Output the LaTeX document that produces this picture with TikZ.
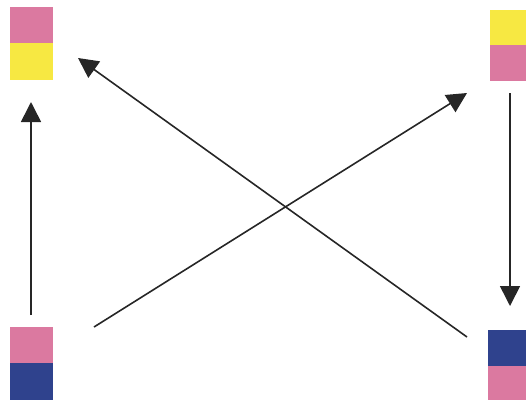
\documentclass[tikz,border=0pt]{standalone}
\usetikzlibrary{arrows.meta}
\definecolor{pk}{RGB}{219,121,160}
\definecolor{yl}{RGB}{247,232,66}
\definecolor{bl}{RGB}{47,66,141}
\definecolor{ln}{RGB}{38,38,38}

\begin{document}
\begin{tikzpicture}[x=1pt,y=-1pt,
  sq/.style={draw=none,inner sep=0pt,minimum width=43pt,minimum height=36pt,anchor=north west},
  lk/.style={-{Triangle[length=20pt,width=20pt]},line width=1.6pt,draw=ln}]
\useasboundingbox (0,0) rectangle (526,405);

% --- top left: pink over yellow ---
\node[sq,fill=pk] (tla) at (10,7) {};
\node[sq,fill=yl,minimum height=37pt] (tlb) at (10,43) {};

% --- top right: yellow over pink ---
\node[sq,fill=yl,minimum height=35pt] (tra) at (490,10) {};
\node[sq,fill=pk] (trb) at (490,45) {};

% --- bottom left: pink over blue ---
\node[sq,fill=pk] (bla) at (10,327) {};
\node[sq,fill=bl,minimum height=37pt] (blb) at (10,363) {};

% --- bottom right: blue over pink ---
\node[sq,fill=bl,minimum width=45pt] (bra) at (488,330) {};
\node[sq,fill=pk,minimum width=45pt,minimum height=34pt] (brb) at (488,366) {};

% arrow ends
\coordinate (l0) at (31,315);  \coordinate (l1) at (31,102);
\coordinate (r0) at (510,93);  \coordinate (r1) at (510,306);
\coordinate (u0) at (94,327);  \coordinate (u1) at (467,93);
\coordinate (d0) at (467,337); \coordinate (d1) at (78,58);

\draw[lk] (l0) -- (l1);
\draw[lk] (r0) -- (r1);
\draw[lk] (u0) -- (u1);
\draw[lk] (d0) -- (d1);
\end{tikzpicture}
\end{document}
